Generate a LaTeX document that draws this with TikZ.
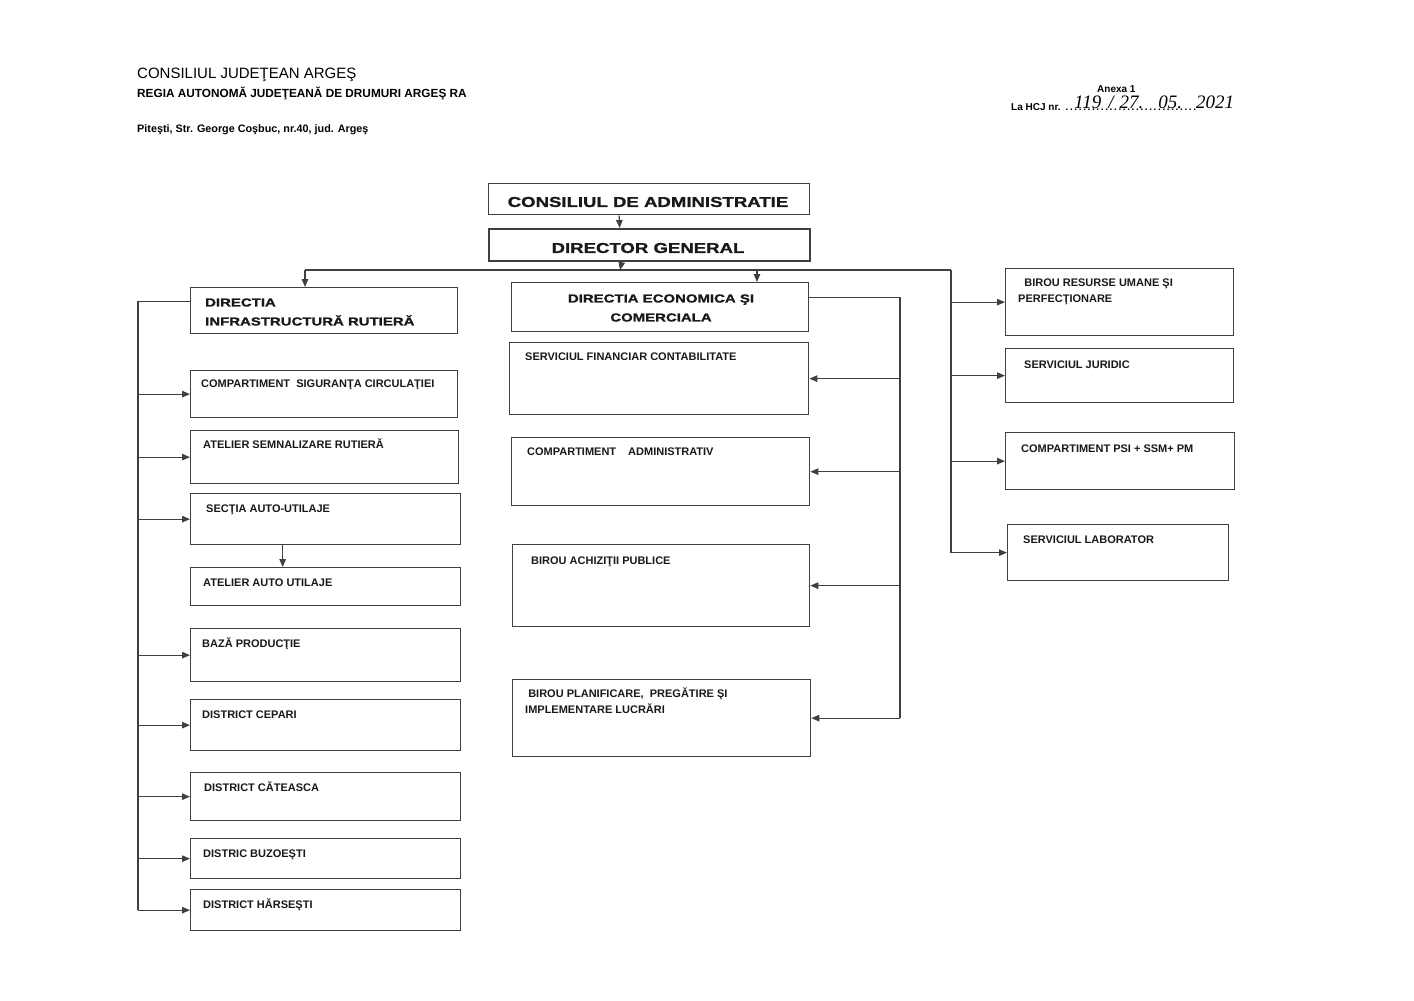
\documentclass[tikz,border=0pt]{standalone}
\usepackage{fontspec}
\setmainfont{Liberation Sans}
\newfontfamily\widefont[FakeStretch=1.3,FakeBold=1.2]{Liberation Sans}
\newfontfamily\handfont{Liberation Serif}
\usetikzlibrary{arrows.meta}

\tikzset{
    unit/.style={draw=black!75, line width=1.3pt, inner sep=0pt, anchor=north west},
    txt/.style={anchor=west, inner sep=0pt, text=black!90, text height=8pt, text depth=0pt,
        font=\fontsize{11}{16}\selectfont\bfseries},
    txttwo/.style={anchor=west, inner sep=0pt, text=black!90, align=left,
        font=\fontsize{11}{16}\selectfont\bfseries},
    headtxt/.style={inner sep=0pt, text=black!90, font=\widefont\fontsize{14.3}{18}\selectfont\bfseries},
    dirtxt/.style={inner sep=0pt, text=black!90, font=\widefont\fontsize{11.5}{19}\selectfont\bfseries},
    link/.style={draw=black!75, line width=1.1pt},
    arr/.style={link, -{Triangle[length=8pt,width=6.5pt]}},
}

\begin{document}
\begin{tikzpicture}[x=1pt,y=-1pt]
    \useasboundingbox (0,0) rectangle (1414,1001);
    \fill[white] (0,0) rectangle (1414,1001);

    % antet
    \node[anchor=west, inner sep=0pt, font=\fontsize{15}{18}\selectfont] (cj) at (137,75) {CONSILIUL JUDEŢEAN ARGEŞ};
    \node[anchor=west, inner sep=0pt, font=\fontsize{11.8}{14}\selectfont\bfseries] (regia) at (137,94) {REGIA AUTONOMĂ JUDEŢEANĂ DE DRUMURI ARGEŞ RA};
    \node[anchor=west, inner sep=0pt, font=\fontsize{10.8}{13}\selectfont\bfseries] (adresa) at (137,130) {Piteşti, Str. George Coşbuc, nr.40, jud. Argeş};
    \node[anchor=west, inner sep=0pt, font=\fontsize{10}{12}\selectfont\bfseries] (anexa) at (1097,89) {Anexa 1};
    \node[anchor=west, inner sep=0pt, font=\fontsize{10}{12}\selectfont\bfseries] (hcj) at (1011,107) {La HCJ nr. \makebox[133pt]{\dotfill}};
    \node[anchor=west, inner sep=0pt, font=\handfont\itshape\fontsize{19}{22}\selectfont] (hcjnr) at (1074,102)
        {119\hspace{7pt}/\hspace{6pt}27.\hspace{15pt}05.\hspace{14pt}2021};

    % conducere
    \node[unit, minimum width=321pt, minimum height=31pt] (cda) at (488,183) {};
    \node[headtxt] (cdat) at (648,202) {CONSILIUL DE ADMINISTRATIE};
    \node[unit, line width=2.4pt, minimum width=321pt, minimum height=32pt] (dg) at (488,228) {};
    \node[headtxt] (dgt) at (648,248) {DIRECTOR GENERAL};

    % directii
    \node[unit, minimum width=267pt, minimum height=46pt] (infra) at (190,287) {};
    \node[dirtxt, anchor=west, align=left] (infrat) at (205,312) {DIRECTIA\\INFRASTRUCTURĂ RUTIERĂ};
    \node[unit, minimum width=297pt, minimum height=49pt] (de) at (511,282) {};
    \node[dirtxt, align=center] (det) at (661,308) {DIRECTIA ECONOMICA ŞI\\COMERCIALA};

    % coloana stanga
    \node[unit, minimum width=267pt, minimum height=47pt] (sig) at (190,370) {};
    \node[txt] (sigt) at (201,383) {COMPARTIMENT\ \ SIGURANŢA CIRCULAŢIEI};
    \node[unit, minimum width=268pt, minimum height=53pt] (sem) at (190,430) {};
    \node[txt] (semt) at (203,444) {ATELIER SEMNALIZARE RUTIERĂ};
    \node[unit, minimum width=270pt, minimum height=51pt] (sec) at (190,493) {};
    \node[txt] (sect) at (206,508) {SECŢIA AUTO-UTILAJE};
    \node[unit, minimum width=270pt, minimum height=38pt] (ata) at (190,567) {};
    \node[txt] (atat) at (203,582) {ATELIER AUTO UTILAJE};
    \node[unit, minimum width=270pt, minimum height=53pt] (baza) at (190,628) {};
    \node[txt] (bazat) at (202,643) {BAZĂ PRODUCŢIE};
    \node[unit, minimum width=270pt, minimum height=51pt] (cep) at (190,699) {};
    \node[txt] (cept) at (202,714) {DISTRICT CEPARI};
    \node[unit, minimum width=270pt, minimum height=48pt] (cat) at (190,772) {};
    \node[txt] (catt) at (204,787) {DISTRICT CĂTEASCA};
    \node[unit, minimum width=270pt, minimum height=40pt] (buz) at (190,838) {};
    \node[txt] (buzt) at (203,853) {DISTRIC BUZOEŞTI};
    \node[unit, minimum width=270pt, minimum height=41pt] (har) at (190,889) {};
    \node[txt] (hart) at (203,904) {DISTRICT HĂRSEŞTI};

    % coloana mijloc
    \node[unit, minimum width=299pt, minimum height=72pt] (sfc) at (509,342) {};
    \node[txt] (sfct) at (525,356) {SERVICIUL FINANCIAR CONTABILITATE};
    \node[unit, minimum width=298pt, minimum height=68pt] (cad) at (511,437) {};
    \node[txt] (cadt) at (527,451) {COMPARTIMENT\hspace{12pt}ADMINISTRATIV};
    \node[unit, minimum width=297pt, minimum height=82pt] (bap) at (512,544) {};
    \node[txt] (bapt) at (531,560) {BIROU ACHIZIŢII PUBLICE};
    \node[unit, minimum width=298pt, minimum height=77pt] (bpp) at (512,679) {};
    \node[txttwo] (bppt) at (525,701) {\ BIROU PLANIFICARE,\ \ PREGĂTIRE ŞI\\IMPLEMENTARE LUCRĂRI};

    % coloana dreapta
    \node[unit, minimum width=228pt, minimum height=67pt] (bru) at (1005,268) {};
    \node[txttwo] (brut) at (1018,292) {\ \ BIROU RESURSE UMANE ŞI\\PERFECŢIONARE};
    \node[unit, minimum width=228pt, minimum height=54pt] (sj) at (1005,348) {};
    \node[txt] (sjt) at (1024,364) {SERVICIUL JURIDIC};
    \node[unit, minimum width=229pt, minimum height=57pt] (psi) at (1005,432) {};
    \node[txt] (psit) at (1021,448) {COMPARTIMENT PSI + SSM+ PM};
    \node[unit, minimum width=221pt, minimum height=56pt] (sl) at (1007,524) {};
    \node[txt] (slt) at (1023,539) {SERVICIUL LABORATOR};

    % legaturi
    \coordinate (bus) at (620,270);
    \coordinate (busl) at (305,270);
    \coordinate (busm) at (757,270);
    \coordinate (busr) at (951,270);
    \coordinate (lbus) at (138,0);
    \coordinate (mbus) at (900,0);

    \draw[arr] ([xshift=-30pt]cda.south) -- ([xshift=-30pt]dg.north);
    \draw[arr] ([xshift=-28pt]dg.south) -- (bus);
    \draw[link] (busl) -- (busr);
    \draw[arr] (busl) -- (busl |- infra.north);
    \draw[arr] (busm) -- (busm |- de.north);

    \draw[link] (busr) -- (busr |- sl.west);
    \foreach \n in {bru,sj,psi,sl}{
      \draw[arr] (busr |- \n.west) -- (\n.west);
    }

    \draw[link] ([yshift=9pt]infra.west) -| (lbus |- har.west);
    \foreach \n in {sig,sem,sec,baza,cep,cat,buz,har}{
      \draw[arr] (lbus |- \n.west) -- (\n.west);
    }
    \draw[arr] ([xshift=-43pt]sec.south) -- ([xshift=-43pt]ata.north);

    \draw[link] ([yshift=9.5pt]de.east) -| (mbus |- bpp.east);
    \foreach \n in {sfc,cad,bap,bpp}{
      \draw[arr] (mbus |- \n.east) -- (\n.east);
    }

  \end{tikzpicture}
\end{document}
